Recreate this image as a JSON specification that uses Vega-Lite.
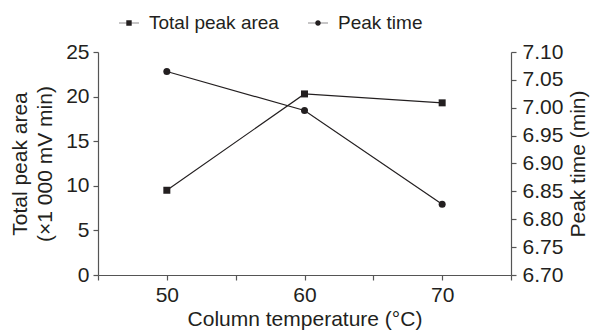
{
  "$schema": "https://vega.github.io/schema/vega-lite/v6.json",
  "autosize": {"type": "none"},
  "width": 413,
  "height": 223,
  "padding": {"left": 98, "top": 52, "right": 80, "bottom": 56},
  "config": {
    "view": {"stroke": null},
    "font": "Liberation Sans",
    "axis": {
      "grid": false,
      "domainColor": "#555555",
      "tickColor": "#555555",
      "domainWidth": 1.2,
      "tickWidth": 1.2,
      "tickSize": 5,
      "labelFont": "Liberation Sans",
      "titleFont": "Liberation Sans",
      "labelFontSize": 21,
      "titleFontSize": 21,
      "titleFontWeight": "normal",
      "labelColor": "#231f20",
      "titleColor": "#231f20",
      "labelPadding": 4
    },
    "legend": {"labelFont": "Liberation Sans", "labelFontSize": 19, "labelColor": "#231f20"}
  },
  "data": {
    "values": [
      {"temp": 50, "series": "Total peak area", "value": 9.5},
      {"temp": 60, "series": "Total peak area", "value": 20.3},
      {"temp": 70, "series": "Total peak area", "value": 19.3},
      {"temp": 50, "series": "Peak time", "value": 7.065},
      {"temp": 60, "series": "Peak time", "value": 6.995},
      {"temp": 70, "series": "Peak time", "value": 6.827}
    ]
  },
  "encoding": {
    "x": {
      "field": "temp",
      "type": "quantitative",
      "scale": {"domain": [45, 75], "nice": false, "zero": false},
      "axis": {
        "values": [45, 50, 55, 60, 65, 70, 75],
        "labelExpr": "(datum.value == 50 || datum.value == 60 || datum.value == 70) ? datum.label : ''",
        "title": "Column temperature (°C)",
        "titlePadding": 3
      }
    }
  },
  "layer": [
    {
      "transform": [{"filter": "datum.series == 'Total peak area'"}],
      "encoding": {
        "y": {
          "field": "value",
          "type": "quantitative",
          "scale": {"domain": [0, 25], "nice": false},
          "axis": {
            "values": [0, 5, 10, 15, 20, 25],
            "title": ["Total peak area", "(×1 000 mV min)"],
            "titleLineHeight": 25,
            "titlePadding": 10
          }
        }
      },
      "layer": [
        {"mark": {"type": "line", "color": "#231f20", "strokeWidth": 1.2}},
        {"mark": {"type": "point", "shape": "square", "filled": true, "size": 49, "color": "#231f20", "opacity": 1}}
      ]
    },
    {
      "transform": [{"filter": "datum.series == 'Peak time'"}],
      "encoding": {
        "y": {
          "field": "value",
          "type": "quantitative",
          "scale": {"domain": [6.7, 7.1], "nice": false, "zero": false},
          "axis": {
            "orient": "right",
            "values": [6.7, 6.75, 6.8, 6.85, 6.9, 6.95, 7.0, 7.05, 7.1],
            "format": ".2f",
            "title": "Peak time (min)",
            "titleAngle": -90,
            "titleBaseline": "top",
            "labelPadding": 6,
            "titlePadding": 5
          }
        }
      },
      "layer": [
        {"mark": {"type": "line", "color": "#231f20", "strokeWidth": 1.2}},
        {"mark": {"type": "point", "shape": "circle", "filled": true, "size": 49, "color": "#231f20", "opacity": 1}}
      ]
    },
    {
      "mark": {"type": "point", "filled": true, "fill": "#231f20", "opacity": 0},
      "encoding": {
        "shape": {
          "field": "series",
          "type": "nominal",
          "scale": {
            "domain": ["Total peak area", "Peak time"],
            "range": [
              "M-1,-0.035H-0.27V0.035H-1ZM0.27,-0.035H1V0.035H0.27ZM-0.27,-0.27H0.27V0.27H-0.27Z",
              "M-1,-0.035H-0.25V0.035H-1ZM0.25,-0.035H1V0.035H0.25ZM0.28,0A0.28,0.28,0,1,1,-0.28,0A0.28,0.28,0,1,1,0.28,0Z"
            ]
          },
          "legend": {
            "title": null,
            "orient": "none",
            "direction": "horizontal",
            "legendX": 20,
            "legendY": -40,
            "symbolSize": 400,
            "symbolOpacity": 1,
            "symbolFillColor": "#231f20",
            "labelOffset": 9,
            "columnPadding": 26
          }
        }
      }
    }
  ],
  "resolve": {"scale": {"y": "independent"}}
}
